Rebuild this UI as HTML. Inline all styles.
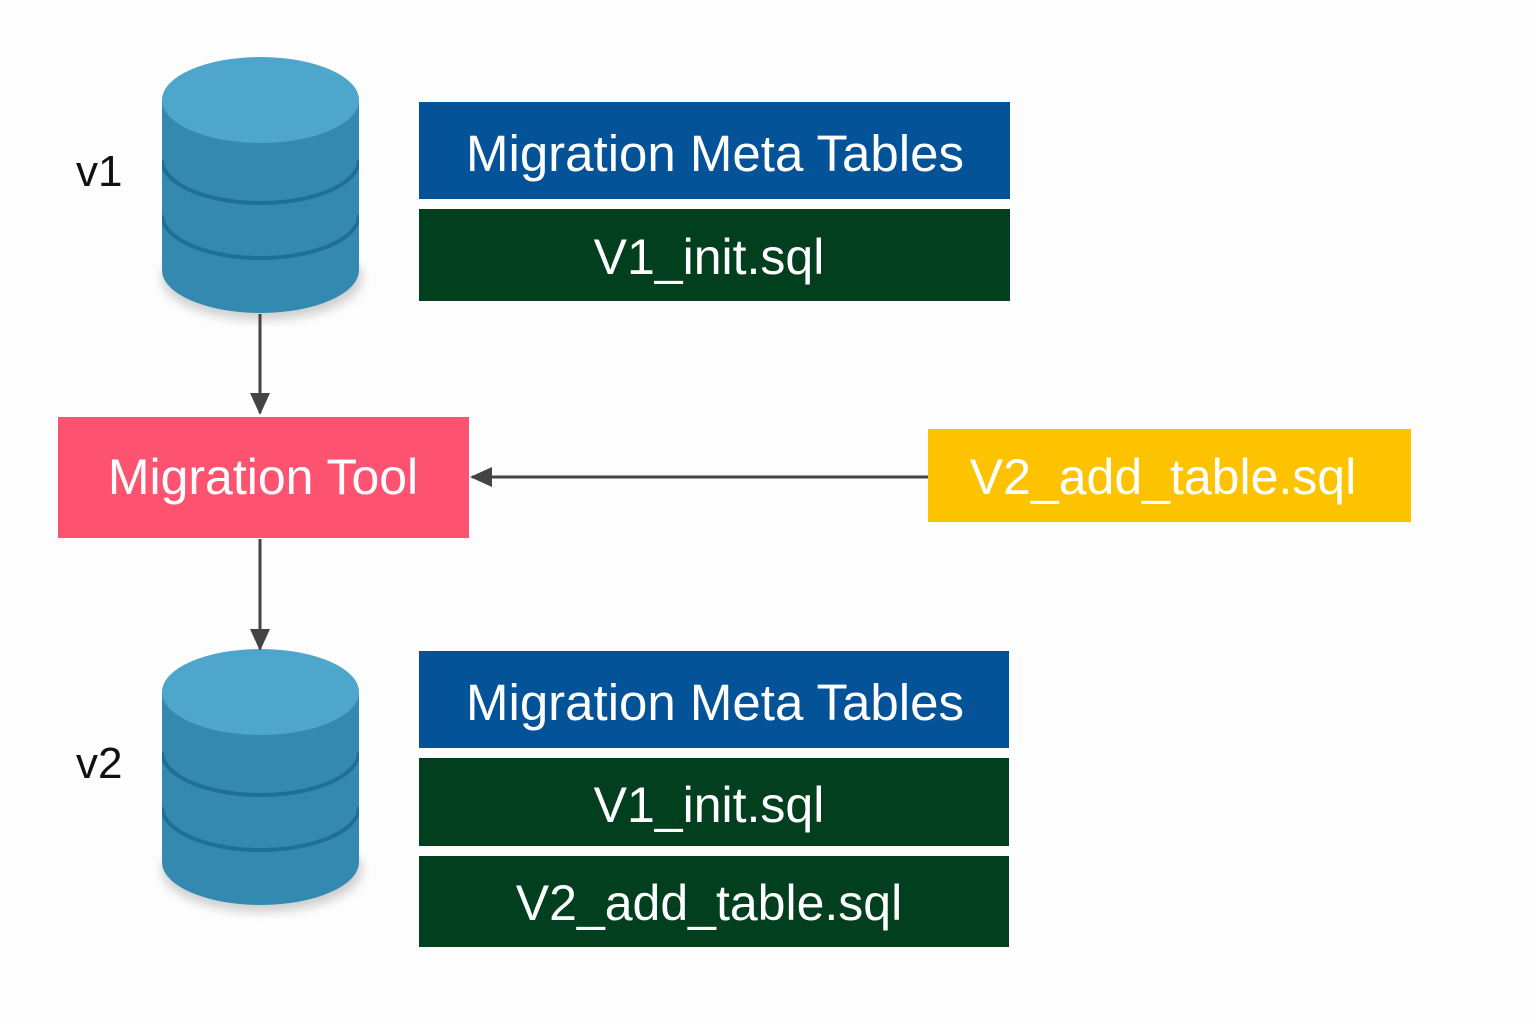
<!DOCTYPE html>
<html><head><meta charset="utf-8"><style>
body{margin:0;background:#fdfdfd;}
svg{display:block}
text{font-family:"Liberation Sans",sans-serif;}
</style></head><body>
<svg width="1536" height="1024" viewBox="0 0 1536 1024" xmlns="http://www.w3.org/2000/svg">
<defs>
<marker id="ah" markerWidth="22" markerHeight="22" refX="20" refY="11" orient="auto" markerUnits="userSpaceOnUse"><path d="M0,1 L22,11 L0,21 Z" fill="#444"/></marker>
<filter id="sh" x="-20%" y="-20%" width="140%" height="140%"><feGaussianBlur stdDeviation="5"/></filter>
<clipPath id="cc"><path d="M162,100 L162,270 A98.5,43 0 0 0 359,270 L359,100 Z"/></clipPath>
<g id="cyl">
<ellipse cx="262" cy="278" rx="100" ry="42" fill="#000" opacity="0.18" filter="url(#sh)"/>
<path d="M162,100 L162,270 A98.5,43 0 0 0 359,270 L359,100 Z" fill="#3389b0"/>
<g clip-path="url(#cc)">
<path d="M162,160 A98.5,43 0 0 0 359,160" fill="none" stroke="#206f98" stroke-width="4"/>
<path d="M162,215 A98.5,43 0 0 0 359,215" fill="none" stroke="#206f98" stroke-width="4"/>
</g>
<ellipse cx="260.5" cy="100" rx="98.5" ry="43" fill="#4fa6cc"/>
</g>
</defs>
<use href="#cyl"/>
<use href="#cyl" y="592"/>
<text x="76" y="186" font-size="44" fill="#111">v1</text>
<text x="76" y="778" font-size="44" fill="#111">v2</text>

<rect x="419" y="102" width="591" height="97" fill="#045297"/>
<text x="715" y="171" font-size="51" fill="#fff" text-anchor="middle">Migration Meta Tables</text>
<rect x="419" y="209" width="591" height="92" fill="#013f1f"/>
<text x="709" y="274" font-size="50" fill="#fff" text-anchor="middle">V1_init.sql</text>

<rect x="419" y="651" width="590" height="97" fill="#045297"/>
<text x="715" y="720" font-size="51" fill="#fff" text-anchor="middle">Migration Meta Tables</text>
<rect x="419" y="758" width="590" height="88" fill="#013f1f"/>
<text x="709" y="822" font-size="50" fill="#fff" text-anchor="middle">V1_init.sql</text>
<rect x="419" y="856" width="590" height="91" fill="#013f1f"/>
<text x="709" y="920" font-size="50" fill="#fff" text-anchor="middle">V2_add_table.sql</text>

<rect x="58" y="417" width="411" height="121" fill="#fe5370"/>
<text x="263" y="494" font-size="50" fill="#fff" text-anchor="middle">Migration Tool</text>
<rect x="928" y="429" width="483" height="93" fill="#fec300"/>
<text x="1163" y="494" font-size="50" fill="#fff" text-anchor="middle">V2_add_table.sql</text>

<line x1="260" y1="314" x2="260" y2="413" stroke="#444" stroke-width="3" marker-end="url(#ah)"/>
<line x1="260" y1="539" x2="260" y2="649" stroke="#444" stroke-width="3" marker-end="url(#ah)"/>
<line x1="928" y1="477" x2="472" y2="477" stroke="#444" stroke-width="3" marker-end="url(#ah)"/>
</svg>
</body></html>
